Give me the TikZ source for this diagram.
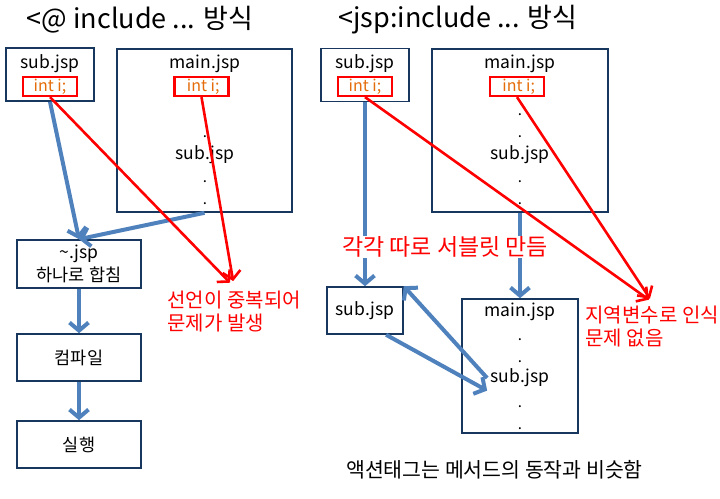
\documentclass[tikz,border=0pt]{standalone}
\usepackage{fontspec}
\setmainfont{Noto Sans CJK KR}
\usepackage{xcolor}
\usetikzlibrary{arrows.meta,positioning,calc}
\definecolor{boxline}{RGB}{23,55,94}
\definecolor{flowblue}{RGB}{79,129,189}
\definecolor{varorange}{RGB}{228,108,10}
\tikzset{
	filebox/.style={draw=boxline,line width=1.6pt,inner sep=0pt},
	varbox/.style={draw=red,line width=2.2pt,inner sep=0pt,minimum width=54,minimum height=19,text=varorange,font=\fontsize{16}{18}\selectfont},
	bodytext/.style={font=\fontsize{17.5}{23}\selectfont},
	flow/.style={draw=flowblue,line width=4pt,-{Straight Barb[length=8pt,width=19pt]}},
	clash/.style={draw=red,line width=2.6pt,-{Straight Barb[length=8pt,width=18pt]}},
	note/.style={text=red,align=left,font=\fontsize{20}{23}\selectfont},
	dotmark/.style={inner sep=0pt,anchor=base,font=\fontsize{15}{18}\selectfont}
}
\begin{document}
\begin{tikzpicture}[x=1pt,y=-1pt,bodytext]
	\useasboundingbox (0,0) rectangle (720,498);
	\node[font=\fontsize{27}{32}\selectfont] (titleA) at (140,20) {<@ include ... 방식};
	\node[font=\fontsize{27}{32}\selectfont] (titleB) at (458,20) {<jsp:include ... 방식};
	\node[filebox,minimum width=88,minimum height=53] (subA) at (50,74.5) {};
	\node (subAname) at (50,64) {sub.jsp};
	\node[varbox] (varA) at (50,86.5) {int i;};
	\node[filebox,minimum width=175,minimum height=163] (mainA) at (204.5,130.5) {};
	\node (mainAname) at (205,64) {main.jsp};
	\node[varbox] (varmA) at (201.5,86.5) {\ int i;};
	\node[dotmark] (dotA1) at (205,137) {.};
	\node (incA) at (205,155) {sub.jsp};
	\node[dotmark] (dotA2) at (205,182) {.};
	\node[dotmark] (dotA3) at (205,204) {.};
	\node[filebox,minimum width=124,minimum height=48,align=center] (merge) at (79,264) {\textasciitilde.jsp\\하나로 합침};
	\node[filebox,minimum width=124,minimum height=47] (compile) at (79,357.5) {컴파일};
	\node[filebox,minimum width=124,minimum height=47] (run) at (79,444.5) {실행};
	\node[note,anchor=north west] (errA) at (164,287) {선언이 중복되어\\문제가 발생};
	\draw[flow] (subA.south) -- (merge.north);
	\draw[flow] (mainA.south) -- (merge.north);
	\draw[flow] (merge) -- (compile);
	\draw[flow] (compile) -- (run);
	\draw[clash,shorten >=6pt] (varA.south) -- (errA.north);
	\draw[clash,shorten >=6pt] (varmA.south) -- (errA.north);
	\node[filebox,minimum width=88,minimum height=53] (subB) at (365,75) {};
	\node (subBname) at (365,64) {sub.jsp};
	\node[varbox] (varB) at (365,86.5) {int i;};
	\node[filebox,minimum width=176,minimum height=163] (mainB) at (520,130.5) {};
	\node (mainBname) at (520,64) {main.jsp};
	\node[varbox] (varmB) at (517,86.5) {\ int i;};
	\node[dotmark] (dotB0) at (520,115) {.};
	\node[dotmark] (dotB1) at (520,137) {.};
	\node (incB) at (520,155) {sub.jsp};
	\node[dotmark] (dotB2) at (520,182) {.};
	\node[dotmark] (dotB3) at (520,204) {.};
	\node[filebox,minimum width=76,minimum height=47] (subC) at (365,310.5) {sub.jsp};
	\node[filebox,minimum width=116,minimum height=134] (mainC) at (520,366) {};
	\node (mainCname) at (520,312) {main.jsp};
	\node[dotmark] (dotC1) at (520,340) {.};
	\node[dotmark] (dotC2) at (520,362) {.};
	\node (incC) at (520,378) {sub.jsp};
	\node[dotmark] (dotC3) at (520,407) {.};
	\node[dotmark] (dotC4) at (520,429) {.};
	\node[note,anchor=north west] (errB) at (582,302) {지역변수로 인식\\문제 없음};
	\node[font=\fontsize{20.5}{24}\selectfont] (caption) at (494.5,470) {액션태그는 메서드의 동작과 비슷함};
	\draw[flow] (subB.south) -- (subC.north);
	\draw[flow] (mainB.south) -- (mainC.north);
	\draw[flow] (subC.-49) -- (incC.south west);
	\draw[flow] (incC.west) -- (subC.north east);
	\draw[clash,shorten >=4pt] (varB.south) -- (errB.north);
	\draw[clash,shorten >=4pt] (varmB.south) -- (errB.north);
	\node[text=red,fill=white,inner sep=1pt,font=\fontsize{23}{26}\selectfont] (servlet) at (445,247) {각각 따로 서블릿 만듬};
\end{tikzpicture}
\end{document}
